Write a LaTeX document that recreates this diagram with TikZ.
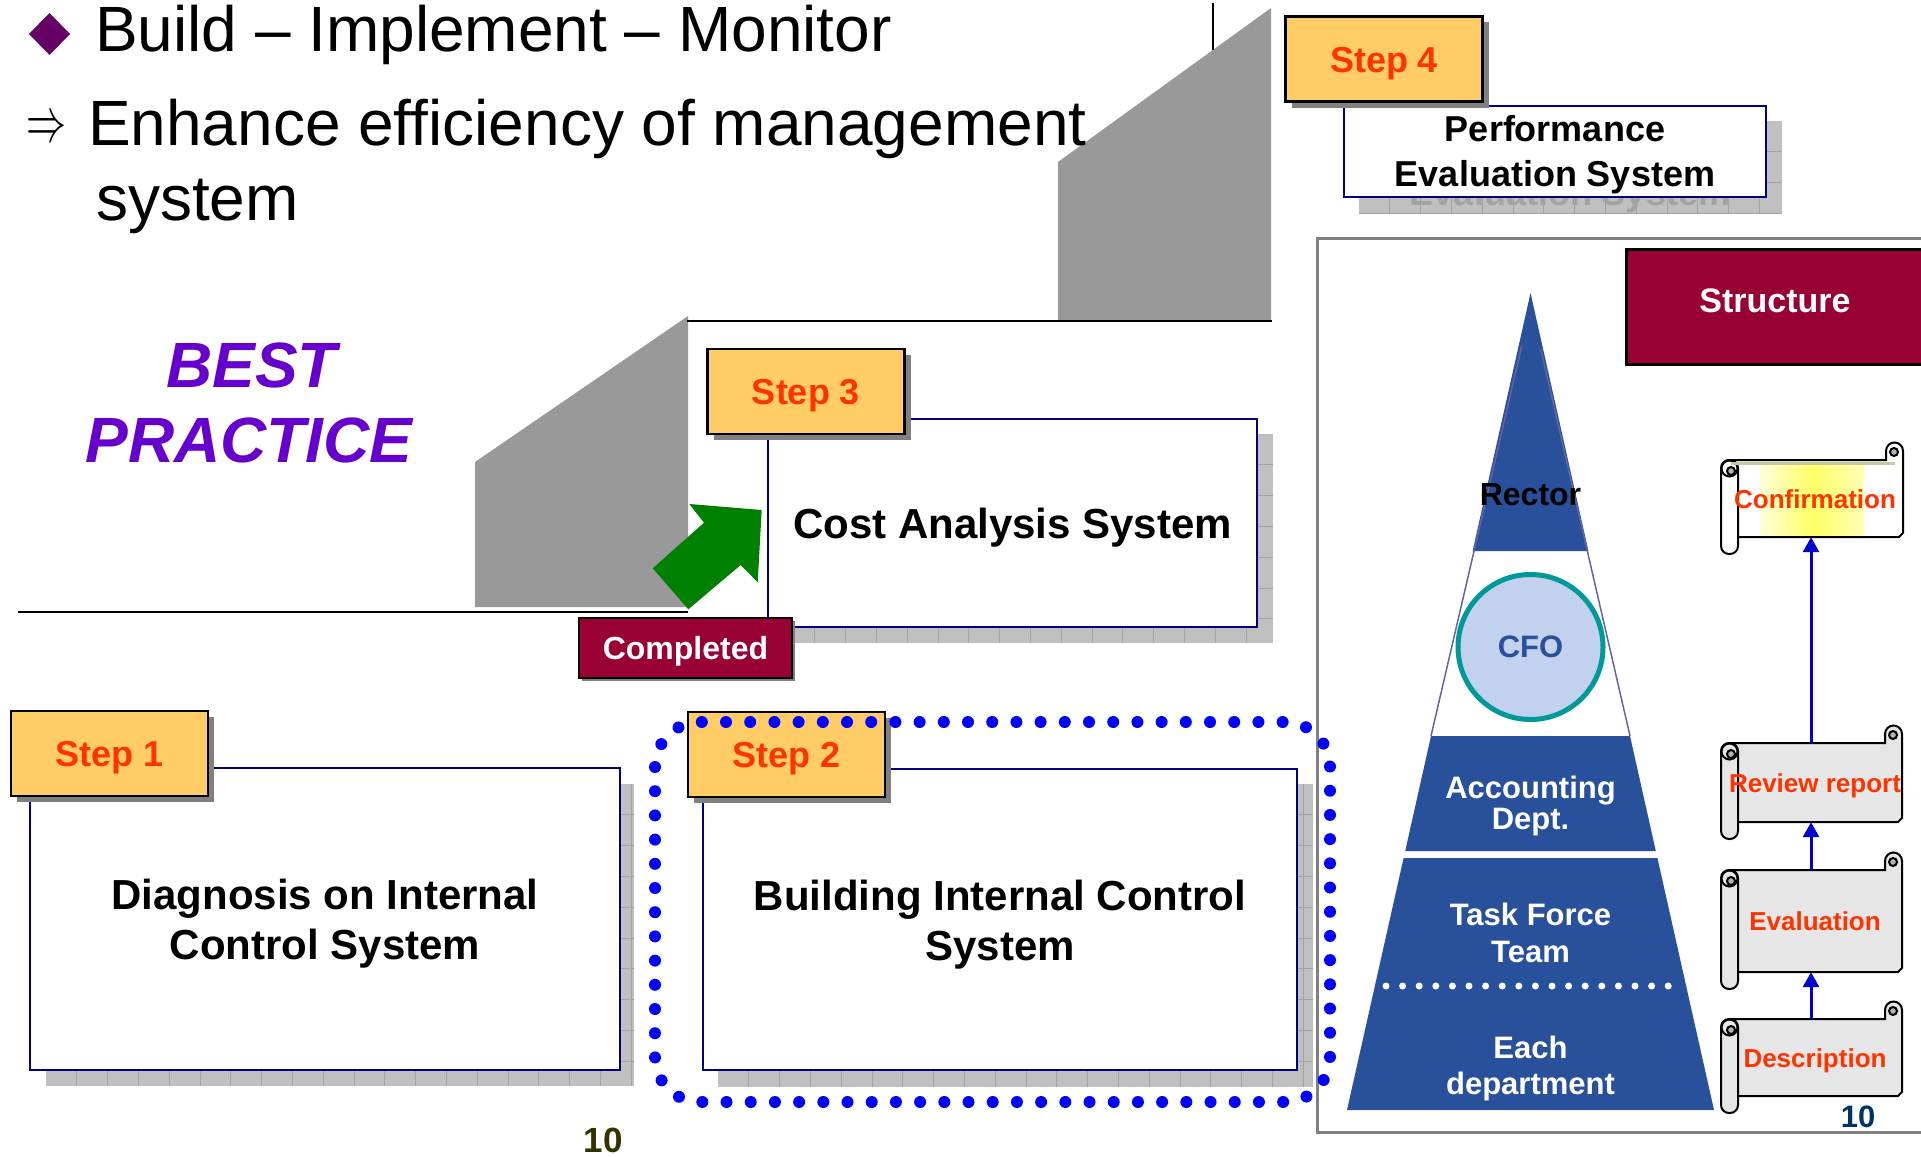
\documentclass[tikz,border=0pt]{standalone}
\usepackage{fontspec}
\setmainfont{Liberation Sans}
\usetikzlibrary{arrows.meta,shadows}

\definecolor{stepyellow}{HTML}{FFCC66}
\definecolor{stepred}{HTML}{FF3300}
\definecolor{boxnavy}{HTML}{000080}
\definecolor{wine}{HTML}{990033}
\definecolor{stairgray}{HTML}{999999}
\definecolor{shadefill}{HTML}{C0C0C0}
\definecolor{shadegrid}{HTML}{A3A3A3}
\definecolor{stepshadow}{HTML}{808080}
\definecolor{bestpurple}{HTML}{6600CC}
\definecolor{bulletpurple}{HTML}{660066}
\definecolor{arrowgreen}{HTML}{008000}
\definecolor{pyrblue}{RGB}{40,80,155}
\definecolor{pyredge}{RGB}{100,100,160}
\definecolor{cfofill}{HTML}{C2D1EE}
\definecolor{cfoteal}{HTML}{009999}
\definecolor{scrollgray}{HTML}{E6E6E6}
\definecolor{curlgray}{HTML}{B3B3B3}
\definecolor{scrollrim}{HTML}{C8C8A0}
\definecolor{flowblue}{HTML}{0000CC}
\definecolor{dotblue}{HTML}{0000FF}
\definecolor{panelgray}{HTML}{808080}
\definecolor{pagenum}{HTML}{333300}
\definecolor{pagenumblue}{HTML}{003366}

\newcommand\fsz[2]{\fontsize{#1}{#2}\selectfont}

% textured drop shadow behind the large white boxes
\newcommand\gridshadow[4]{%
  \fill[shadefill] (#1,#2) rectangle (#3,#4);
  \begin{scope}
    \clip (#1,#2) rectangle (#3,#4);
    \foreach \gx in {30.8,61.6,...,640} \draw[shadegrid, line width=1pt] ({#1+\gx},#2) -- ({#1+\gx},#4);
    \foreach \gy in {30.8,61.6,...,320} \draw[shadegrid, line width=1pt] (#1,{#2+\gy}) -- (#3,{#2+\gy});
  \end{scope}}

% scroll sheet with left roll and top-right curl
% #1 left, #2 sheet top, #3 right, #4 sheet bottom, #5 fill
\newcommand\scrollart[5]{%
  \draw[scrolledge, fill=#5] ({#1+8},#2) -- ({#3-17},#2) -- ({#3-17},{#2-9})
    arc[start angle=180, end angle=360, radius=8.5] -- (#3,{#4-4}) -- ({#3-4},#4) -- ({#1+8},#4) -- cycle;
  \filldraw[scrolledge, fill=curlgray] ({#3-9},{#2-8}) circle[radius=4];
  \draw[scrolledge, fill=#5, rounded corners=8pt] (#1,#2) rectangle ({#1+17},{#4+17});
  \draw[scrolledge] ({#1+8.5},{#2+8.5}) circle[radius=8];
  \filldraw[scrolledge, fill=curlgray] ({#1+10},{#2+11}) circle[radius=4];}

\tikzset{
  txt/.style={inner sep=0pt, outer sep=0pt},
  stairline/.style={black, line width=2.5pt},
  stepbox/.style={draw=black, line width=2.5pt, fill=stepyellow, minimum width=197pt,
    minimum height=85pt, inner sep=0pt, text=stepred, font=\bfseries\fsz{36}{36},
    text height=26pt, text depth=0pt,
    general shadow={fill=stepshadow, shadow xshift=6pt, shadow yshift=-6pt}},
  mainbox/.style={draw=boxnavy, line width=2.5pt, fill=white, inner sep=0pt},
  boxtext/.style={inner sep=0pt, align=center, font=\bfseries\fsz{42}{50}},
  redbox/.style={draw=black, line width=3pt, fill=wine, text=white, inner sep=0pt},
  pyrtext/.style={inner sep=0pt, text=white, align=center, font=\bfseries\fsz{31}{31}},
  scrolledge/.style={draw=black, line width=2pt},
  scrolltext/.style={inner sep=0pt, minimum width=172pt, text=stepred,
    font=\bfseries\fsz{26}{26}, text height=19pt, text depth=0pt},
  flow/.style={flowblue, line width=3pt, -{Triangle[width=16pt, length=15pt]}},
  dotring/.style={dotblue, line width=12pt, line cap=round, dash pattern=on 0pt off 24.2pt},
}

\begin{document}
\begin{tikzpicture}[x=1pt, y=-1pt]
\useasboundingbox (0,0) rectangle (1921,1156);

% staircase
\fill[stairgray] (475,607) -- (475,462) -- (688,316) -- (688,607) -- cycle;
\fill[stairgray] (1058,321) -- (1058,162) -- (1271,8) -- (1271,321) -- cycle;
\draw[stairline] (18,612) -- (688,612);
\draw[stairline] (687,321) -- (1272,321);
\draw[line width=2pt] (1213,3) -- (1213,50);

% headline
\fill[bulletpurple] (49.5,13) -- (70,34) -- (49.5,55) -- (29,34) -- cycle;
\node[txt, anchor=base west, font=\fsz{64}{64}] (h1) at (95,52) {Build – Implement – Monitor};
\node[txt] (imp) at (47,130) {\resizebox{40pt}{23pt}{$\Rightarrow$}};
\node[txt, anchor=base west, font=\fsz{64}{64}] (h2) at (88,145) {Enhance efficiency of management};
\node[txt, anchor=base west, font=\fsz{64}{64}] (h3) at (96,220) {system};

\node[txt, anchor=base, text=bestpurple, font=\bfseries\itshape\fsz{64}{64}] (best) at (251.5,387) {BEST};
\node[txt, anchor=base, text=bestpurple, font=\bfseries\itshape\fsz{64}{64}] (practice) at (249,462) {PRACTICE};

% step 4
\gridshadow{1359}{121}{1782}{213}
\begin{scope}
  \clip (1359,197) rectangle (1782,213);
  \node[boxtext, text=shadegrid, font=\bfseries\fsz{36}{45}] (m4ghost) at (1570,174) {Performance\\Evaluation System};
\end{scope}
\node[mainbox, minimum width=422pt, minimum height=91pt] (m4) at (1555,151.5) {};
\node[boxtext, font=\bfseries\fsz{36}{45}] (m4t) at ([yshift=-3pt]m4.center) {Performance\\Evaluation System};
\node[stepbox] (s4) at (1384,59) {Step 4};

% step 3
\gridshadow{784}{434}{1273}{643}
\node[mainbox, minimum width=489pt, minimum height=208pt, font=\bfseries\fsz{42}{42}, text height=30pt, text depth=0pt] (m3) at (1012.5,523) {Cost Analysis System};
\node[stepbox] (s3) at (806,391.5) {Step 3};

% progress arrow
\fill[arrowgreen] (652.7,568.3) -- (704,522.7) -- (689.3,504) -- (761.7,510) -- (757.7,582.3) -- (740.7,565) -- (688.3,609.3) -- cycle;

\node[redbox, line width=2.5pt, minimum width=213pt, minimum height=60pt, font=\bfseries\fsz{32}{32},
  text height=23pt, text depth=0pt,
  general shadow={fill=stepshadow, shadow xshift=3pt, shadow yshift=-3pt}] (done) at (685.5,648) {Completed};

% step 1
\gridshadow{46}{784}{634}{1086}
\node[mainbox, minimum width=590pt, minimum height=302pt] (m1) at (325,919) {};
\node[boxtext] (m1t) at ([yshift=-5pt]m1.center) {Diagnosis on Internal\\Control System};
\node[stepbox] (s1) at (109.5,753.5) {Step 1};

% step 2
\gridshadow{718}{784}{1313}{1087}
\node[mainbox, minimum width=594pt, minimum height=301pt] (m2) at (1000,919.5) {};
\node[boxtext] (m2t) at ([yshift=-5pt]m2.center) {Building Internal Control\\System};
\node[stepbox] (s2) at (786.5,754.5) {Step 2};

% structure panel
\draw[panelgray, line width=3pt] (1935,238) -- (1317,238) -- (1317,1132) -- (1935,1132);
\node[redbox, minimum width=298pt, minimum height=115pt, font=\bfseries\fsz{34}{34},
  text height=24pt, text depth=12pt] (structure) at (1775,306.5) {Structure};

% pyramid
\fill[pyrblue] (1530.5,293) -- (1588.4,551) -- (1472.6,551) -- cycle;
\fill[pyrblue] (1431,736) -- (1630,736) -- (1655.8,851) -- (1405.2,851) -- cycle;
\fill[pyrblue] (1403.6,858) -- (1657.4,858) -- (1714,1110) -- (1347,1110) -- cycle;
\draw[pyredge, line width=1.5pt] (1521.7,346) -- (1431,736);
\draw[pyredge, line width=1.5pt] (1540.7,349) -- (1630,736);
\draw[white, line width=7pt, line cap=round, dash pattern=on 0pt off 16.6pt] (1386,986) -- (1680,986);
\node[txt, anchor=base, font=\bfseries\fsz{32}{32}] (rector) at (1530.5,505) {Rector};
\node[circle, draw=cfoteal, line width=5pt, fill=cfofill, minimum size=145pt, inner sep=0pt,
  text=pyrblue, font=\bfseries\fsz{31}{31}] (cfo) at (1530.5,647) {CFO};
\node[pyrtext] (acc) at (1530.5,806) {Accounting\\Dept.};
\node[pyrtext, font=\bfseries\fsz{31}{37}] (tft) at (1530.5,933) {Task Force\\Team};
\node[pyrtext, font=\bfseries\fsz{31}{36}] (each) at (1530.5,1068) {Each\\department};

% scrolls
\scrollart{1721}{460}{1903}{537}{white}
\shade[left color=yellow!15, right color=yellow!30, middle color=yellow!60] (1760,463) rectangle (1864,535);
\draw[scrollrim, line width=3pt] (1731,463) -- (1895,463);
\node[scrolltext, minimum height=77pt] (conf) at (1815,498.5) {Confirmation};
\scrollart{1721}{743}{1902}{822}{scrollgray}
\node[scrolltext, minimum height=79pt] (rev) at (1815,782.5) {Review report};
\scrollart{1721}{870}{1902}{972}{scrollgray}
\node[scrolltext, minimum height=102pt] (eval) at (1815,921) {Evaluation};
\scrollart{1721}{1019}{1902}{1096}{scrollgray}
\node[scrolltext, minimum height=77pt] (desc) at (1815,1057.5) {Description};

\draw[flow] ([xshift=-4pt]desc.north) -- ([xshift=-4pt]eval.south);
\draw[flow] ([xshift=-4pt]eval.north) -- ([xshift=-4pt]rev.south);
\draw[flow] ([xshift=-4pt]rev.north) -- ([xshift=-4pt]conf.south);

% current stage marker
\draw[dotring, rounded corners=45pt] (655,722) rectangle (1330,1102);

% page numbers
\node[txt, anchor=base, text=pagenum, font=\bfseries\fsz{35}{35}] (pg) at (603,1152) {10};
\node[txt, anchor=base, text=pagenumblue, font=\bfseries\fsz{31}{31}] (pgr) at (1858,1127) {10};
\end{tikzpicture}
\end{document}
